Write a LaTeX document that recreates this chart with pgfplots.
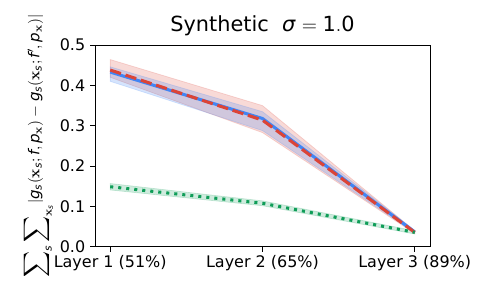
\documentclass[border=0pt]{standalone}
\usepackage{mathspec}
\setmainfont{DejaVu Sans}
\setmathsfont(Digits,Latin,Greek){DejaVu Sans}
\usepackage{pgfplots}
\pgfplotsset{compat=1.18}
\definecolor{gblue}{RGB}{66,133,244}
\definecolor{gred}{RGB}{219,68,55}
\definecolor{ggreen}{RGB}{15,157,88}
\newcommand{\bigsum}{\mathop{\raisebox{-0.25ex}{\scalebox{1.3}{$\displaystyle\sum$}}}}
\begin{document}
\begin{tikzpicture}
\begin{axis}[
  at={(0,0)}, anchor=south west,
  scale only axis,
  width=241.2pt, height=145.4pt,
  xmin=-0.1, xmax=2.1, ymin=0, ymax=0.5,
  xtick={0,1,2},
  xticklabels={Layer 1 (51\%), Layer 2 (65\%), Layer 3 (89\%)},
  ytick={0,0.1,0.2,0.3,0.4,0.5},
  yticklabel style={/pgf/number format/.cd, fixed, fixed zerofill, precision=1},
  /pgf/number format/assume math mode=true,
  tick align=outside,
  major tick length=3.5pt,
  xtick pos=bottom, ytick pos=left,
  tick style={black, line width=0.6pt},
  axis line style={line width=0.6pt},
  ticklabel style={font=\fontsize{11.5}{13}\selectfont},
  xticklabel style={yshift=1pt},
  title={Synthetic\ \ $\sigma = 1.0$},
  title style={font=\fontsize{15}{18}\selectfont, yshift=-3pt},
  ylabel={$\bigsum\nolimits_s \bigsum\nolimits_{\mathbf{x}_s}\! |g_s(\mathbf{x}_s; f, p_{\mathbf{x}}) - g_s(\mathbf{x}_s; f', p_{\mathbf{x}})|$},
  ylabel style={font=\fontsize{10.8}{13}\selectfont, yshift=-2pt},
]
% bands
\addplot[draw=gred, draw opacity=0.2, fill=gred, fill opacity=0.2, line width=0.5pt]
  coordinates {(0,0.464) (1,0.350) (2,0.040) (2,0.033) (1,0.283) (0,0.420)} -- cycle;
\addplot[draw=gblue, draw opacity=0.2, fill=gblue, fill opacity=0.22, line width=0.5pt]
  coordinates {(0,0.446) (1,0.335) (2,0.041) (2,0.035) (1,0.288) (0,0.410)} -- cycle;
\addplot[draw=ggreen, draw opacity=0.2, fill=ggreen, fill opacity=0.2, line width=0.5pt]
  coordinates {(0,0.157) (1,0.114) (2,0.040) (2,0.032) (1,0.102) (0,0.141)} -- cycle;
% lines
\addplot[gblue, line width=2.2pt, line join=round] coordinates {(0,0.433) (1,0.318) (2,0.037)};
\addplot[gred, line width=2.2pt, dash pattern=on 8.1pt off 3.5pt] coordinates {(0,0.438) (1,0.314) (2,0.036)};
\addplot[ggreen, line width=2.2pt, dash pattern=on 2.2pt off 3.6pt] coordinates {(0,0.149) (1,0.108) (2,0.036)};
\end{axis}
\pgfresetboundingbox
\path (-68.4pt,-33.2pt) rectangle (283pt,177.8pt);
\end{tikzpicture}
\end{document}
